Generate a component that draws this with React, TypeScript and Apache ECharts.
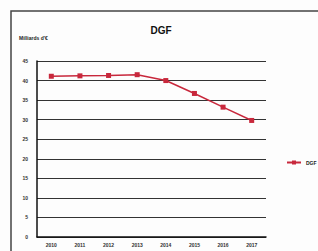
import React, { useEffect, useRef } from "react";
import * as echarts from "echarts";

const categories = ["2010", "2011", "2012", "2013", "2014", "2015", "2016", "2017"];
const dgfValues = [41.1, 41.2, 41.3, 41.5, 40.0, 36.7, 33.2, 29.8];
const seriesName = "DGF";
const titleText = "DGF";
const yAxisName = "Milliards d'€";

export default function App() {
  const ref = useRef<HTMLDivElement>(null);
  useEffect(() => {
    if (!ref.current) return;
    const chart = echarts.init(ref.current, null, { renderer: "svg" });
    chart.setOption({
      animation: false,
      backgroundColor: "#fdfdfd",
      title: {
        text: titleText,
        left: 156,
        top: 20,
        textAlign: "center",
        textStyle: { fontSize: 10, fontWeight: "bold", color: "#111", fontFamily: "Liberation Sans" },
      },
      graphic: [
        {
          type: "rect",
          shape: { x: 11, y: 11, width: 320, height: 250 },
          style: { fill: "none", stroke: "#444", lineWidth: 1.5 },
          silent: true,
        },
        {
          type: "text",
          left: 19,
          top: 35,
          style: { text: yAxisName, fontSize: 5, fontWeight: "bold", fill: "#222", fontFamily: "Liberation Sans" },
        },
      ],
      legend: {
        left: 281,
        top: 155,
        itemWidth: 14,
        itemHeight: 5,
        itemGap: 2,
        textStyle: { fontSize: 5, color: "#222", fontWeight: "bold", fontFamily: "Liberation Sans" },
        data: [seriesName],
      },
      grid: { left: 37, right: 52, top: 61, bottom: 14 },
      xAxis: {
        type: "category",
        data: categories,
        boundaryGap: true,
        axisLine: { lineStyle: { color: "#111", width: 1.5 } },
        axisTick: { show: false },
        axisLabel: { fontSize: 5, color: "#333", margin: 5, fontWeight: "bold", fontFamily: "Liberation Sans" },
      },
      yAxis: {
        type: "value",
        min: 0,
        max: 45,
        interval: 5,
        axisLine: { show: true, lineStyle: { color: "#111", width: 1.5 } },
        axisTick: { show: false },
        axisLabel: { fontSize: 5, color: "#333", margin: 9, fontWeight: "bold", fontFamily: "Liberation Sans" },
        splitLine: { lineStyle: { color: "#333", width: 1.2 } },
      },
      series: [
        {
          name: seriesName,
          type: "line",
          data: dgfValues,
          symbol: "rect",
          symbolSize: 5,
          lineStyle: { color: "#c8283c", width: 1.5 },
          itemStyle: { color: "#c8283c" },
        },
      ],
    });
    return () => chart.dispose();
  }, []);
  return <div ref={ref} style={{ position: "fixed", left: 0, top: 0, width: 318, height: 251 }} />;
}
